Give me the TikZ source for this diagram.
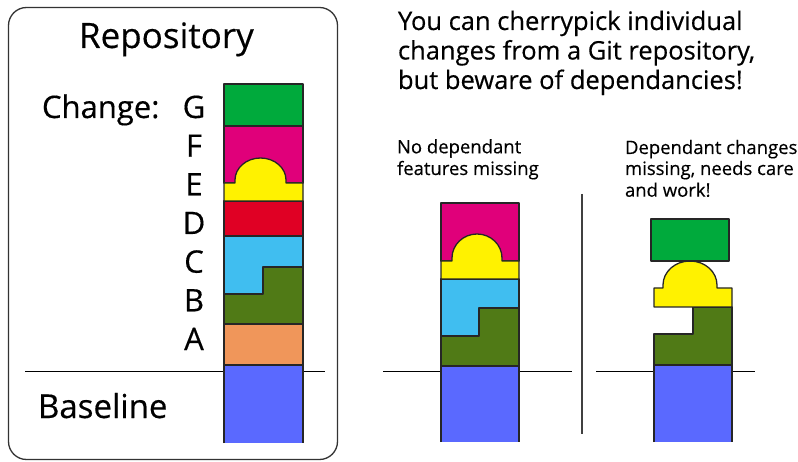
\documentclass[tikz,border=0pt]{standalone}
\usepackage{fontspec}
\setmainfont[FakeBold=0.4]{Open Sans}
\begin{document}
\begin{tikzpicture}[x=1pt,y=-1pt,
  block/.style={draw=black!85,line width=1.3pt,line join=round},
  rule/.style={draw=black,line width=1pt},
  txt/.style={anchor=base west,inner sep=0pt,outer sep=0pt},
  huge/.style={txt,font=\fontsize{35}{35}\selectfont},
  big/.style={txt,font=\fontsize{33}{33}\selectfont},
  mid/.style={txt,font=\fontsize{31}{31}\selectfont},
  head/.style={txt,font=\fontsize{25.5}{25.5}\selectfont},
  small/.style={txt,font=\fontsize{18.5}{18.5}\selectfont}]
\definecolor{cG}{RGB}{0,170,60}
\definecolor{cF}{RGB}{224,0,122}
\definecolor{cE}{RGB}{255,242,0}
\definecolor{cD}{RGB}{224,0,36}
\definecolor{cC}{RGB}{64,190,240}
\definecolor{cB}{RGB}{80,122,22}
\definecolor{cA}{RGB}{240,150,90}
\definecolor{cBase}{RGB}{90,105,255}

\useasboundingbox (0,0) rectangle (798,462);

% repository frame
\draw[black!80,line width=1.3pt,rounded corners=18pt] (8.5,7.5) rectangle (337.5,459.5);

% baselines and separator
\draw[rule] (25,371) -- (325,371);
\draw[rule] (383,371) -- (572,371);
\draw[rule] (596,371) -- (755,371);
\draw[black!75,line width=1.3pt] (582,194) -- (582,434);

% ---------- full repository stack ----------
\fill[cBase] (224,365) rectangle (303,443);
\draw[block] (224,443) -- (224,365) (303,365) -- (303,443);
\filldraw[block,fill=cA] (224,324) rectangle (303,365);
\filldraw[block,fill=cC] (224,236) rectangle (303,294);
\filldraw[block,fill=cB] (224,324) -- (224,294) -- (263,294) -- (263,267) -- (303,267) -- (303,324) -- cycle;
\filldraw[block,fill=cD] (224,201) rectangle (303,236);
\filldraw[block,fill=cF] (224,126) rectangle (303,183);
\filldraw[block,fill=cE] (224,201) -- (224,183) -- (235,183) -- (235,180)
  arc[start angle=180,end angle=360,x radius=25.5,y radius=22] -- (286,183) -- (303,183) -- (303,201) -- cycle;
\filldraw[block,fill=cG] (224,84) rectangle (303,126);

% ---------- cherry-pick without missing dependencies ----------
\fill[cBase] (441,366) rectangle (519,442);
\draw[block] (441,442) -- (441,366) (519,366) -- (519,442);
\filldraw[block,fill=cC] (441,279) rectangle (519,336);
\filldraw[block,fill=cB] (441,366) -- (441,336) -- (479,336) -- (479,308) -- (519,308) -- (519,366) -- cycle;
\filldraw[block,fill=cF] (441,203) rectangle (519,261);
\filldraw[block,fill=cE] (441,279) -- (441,261) -- (452,261) -- (452,258)
  arc[start angle=180,end angle=360,x radius=25,y radius=24] -- (502,261) -- (519,261) -- (519,279) -- cycle;

% ---------- cherry-pick with missing dependencies ----------
\fill[cBase] (654,365) rectangle (732,442);
\draw[block] (654,442) -- (654,365) (732,365) -- (732,442);
\filldraw[block,fill=cB] (654,365) -- (654,334) -- (693,334) -- (693,307) -- (732,307) -- (732,365) -- cycle;
\filldraw[block,fill=cE] (654,307) -- (654,288) -- (663,288) -- (663,285)
  arc[start angle=180,end angle=360,x radius=27,y radius=24] -- (717,288) -- (732,288) -- (732,307) -- cycle;
\filldraw[block,fill=cG] (651,219) rectangle (729,261);

% ---------- labels ----------
\node[huge] (repo) at (79,48) {Repository};
\node[mid] (chg) at (42,118) {Change:};
\foreach \l/\y in {G/118,F/156.7,E/195.3,D/234,C/272.7,B/311.3,A/350}
  \node[mid,anchor=base] (lbl\l) at (194,\y) {\l};
\node[big] (base) at (38,418) {Baseline};

\node[head] (t1) at (398,30) {You can cherrypick individual};
\node[head] (t2) at (398,59.5) {changes from a Git repository,};
\node[head] (t3) at (398,89) {but beware of dependancies!};

\node[small] (n1) at (397,153.3) {No dependant};
\node[small] (n2) at (397,175) {features missing};
\node[small] (d1) at (625,154) {Dependant changes};
\node[small] (d2) at (625,175) {missing, needs care};
\node[small] (d3) at (625,196.7) {and work!};
\end{tikzpicture}
\end{document}
